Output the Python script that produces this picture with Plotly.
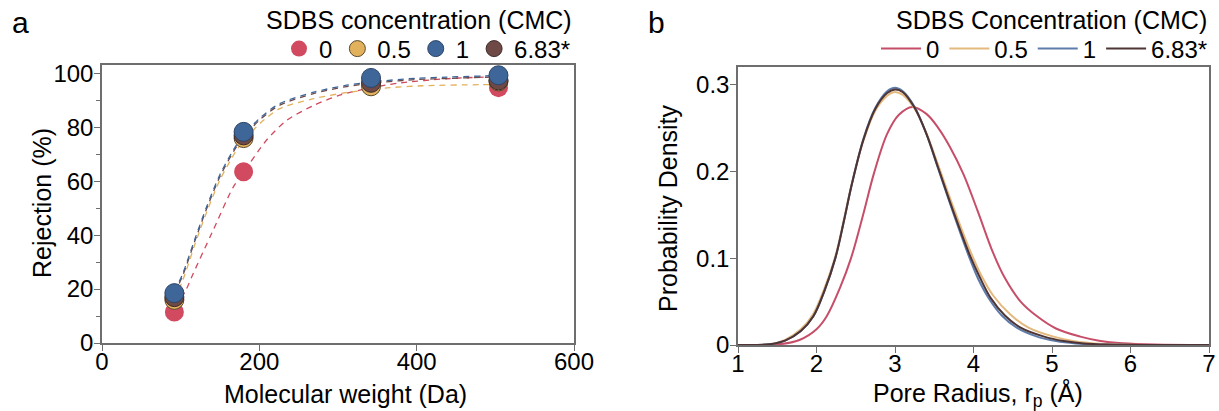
import plotly.graph_objects as go

# ---------------- data: panel a ----------------
conc_labels = ["0", "0.5", "1", "6.83*"]
mol_weight = [92, 180, 342, 504]
rej_0 = [11.5, 63.5, 96.0, 94.7]
rej_05 = [16.0, 76.0, 95.2, 97.0]
rej_1 = [18.5, 78.3, 98.3, 99.3]
rej_683 = [17.0, 77.0, 96.5, 97.4]

# fitted (dashed) curves
fit_x_0 = [92, 105.5, 116, 140, 167, 180, 209, 235, 269, 302, 336, 378, 438, 504]
fit_y_0 = [13.5, 19.0, 25.8, 41.0, 57.9, 63.3, 75.2, 82.6, 88.1, 91.9, 94.3, 96.4, 98.0, 98.8]
fit_x_05 = [92, 103, 118, 133, 150, 171, 180, 201, 226, 269, 311, 342, 366, 408, 480, 504]
fit_y_05 = [16.0, 23.5, 36.5, 48.5, 60.5, 71.5, 75.0, 81.5, 86.9, 90.6, 92.9, 94.0, 94.7, 95.4, 95.8, 95.9]
fit_x_1 = [92, 103, 118, 133, 150, 171, 180, 201, 226, 269, 311, 342, 400, 438, 504]
fit_y_1 = [19.0, 26.0, 38.5, 50.5, 62.5, 73.5, 77.0, 83.5, 88.8, 93.0, 95.6, 96.8, 98.2, 98.6, 99.2]
fit_x_683 = [92, 103, 118, 133, 150, 171, 180, 201, 226, 269, 311, 342, 400, 438, 504]
fit_y_683 = [18.3, 25.3, 37.8, 49.8, 61.8, 72.8, 76.3, 82.9, 88.2, 92.5, 95.1, 96.3, 97.7, 98.1, 98.7]

# ---------------- data: panel b ----------------
r_0 = [1.0, 1.5, 1.79, 2.0, 2.13, 2.3, 2.44, 2.6, 2.73, 2.9, 3.05, 3.22, 3.4, 3.55, 3.7, 3.87,
       4.05, 4.25, 4.4, 4.6, 4.81, 5.05, 5.36, 5.6, 5.9, 6.3, 7.0]
pdf_0 = [0.0, 0.0005, 0.006, 0.018, 0.033, 0.066, 0.1, 0.152, 0.197, 0.243, 0.265, 0.274, 0.266,
         0.25, 0.228, 0.197, 0.155, 0.106, 0.077, 0.05, 0.033, 0.019, 0.0096, 0.005, 0.002,
         0.0005, 0.0]

r_05 = [1.0, 1.4, 1.6, 1.8, 1.96, 2.1, 2.24, 2.35, 2.45, 2.6, 2.75, 2.9, 2.98, 3.1, 3.25, 3.4,
        3.55, 3.75, 3.95, 4.1, 4.25, 4.47, 4.7, 5.02, 5.3, 5.6, 6.0, 7.0]
pdf_05 = [0.0, 0.001, 0.006, 0.018, 0.036, 0.065, 0.102, 0.145, 0.186, 0.236, 0.27, 0.287,
          0.291, 0.288, 0.272, 0.244, 0.207, 0.157, 0.11, 0.08, 0.057, 0.035, 0.02, 0.0096,
          0.004, 0.0015, 0.0003, 0.0]

r_1 = [1.0, 1.4, 1.6, 1.8, 1.96, 2.1, 2.24, 2.35, 2.45, 2.6, 2.75, 2.9, 3.0, 3.1, 3.25, 3.4,
       3.55, 3.75, 3.95, 4.06, 4.2, 4.36, 4.55, 4.81, 5.05, 5.3, 5.6, 6.0, 7.0]
pdf_1 = [0.0, 0.0008, 0.005, 0.016, 0.033, 0.062, 0.1, 0.143, 0.185, 0.238, 0.273, 0.292, 0.296,
         0.292, 0.274, 0.243, 0.203, 0.15, 0.1, 0.076, 0.053, 0.034, 0.02, 0.0096, 0.0045,
         0.0018, 0.0005, 0.0001, 0.0]

r_683 = [1.0, 1.4, 1.6, 1.8, 1.96, 2.1, 2.24, 2.35, 2.45, 2.6, 2.75, 2.9, 3.0, 3.1, 3.25, 3.4,
         3.55, 3.75, 3.95, 4.08, 4.22, 4.4, 4.6, 4.9, 5.15, 5.4, 5.7, 6.1, 7.0]
pdf_683 = [0.0, 0.0008, 0.005, 0.016, 0.033, 0.062, 0.1, 0.143, 0.185, 0.237, 0.272, 0.29, 0.294,
           0.291, 0.273, 0.243, 0.204, 0.152, 0.104, 0.078, 0.054, 0.034, 0.02, 0.0096,
           0.0045, 0.0018, 0.0005, 0.0001, 0.0]

# ---------------- styles ----------------
FONT = "Liberation Sans, Arial, Helvetica, sans-serif"
W, H = 1219, 411
mk_colors = ["#D14A5F", "#E2B15C", "#3E6699", "#6E4945"]
mk_lines = ["#C0475A", "#5a4a2c", "#2E4566", "#3f2c2a"]
ln_colors = ["#C64E68", "#E3B97E", "#5E7CAA", "#4E3434"]
AX = "#6e6e6e"

fig = go.Figure()

rej_all = [rej_0, rej_05, rej_1, rej_683]
fits = [(fit_x_0, fit_y_0), (fit_x_05, fit_y_05), (fit_x_683, fit_y_683), (fit_x_1, fit_y_1)]
fit_cols = [mk_colors[0], mk_colors[1], mk_colors[3], mk_colors[2]]

# dashed fit curves
for (fx, fy), c in zip(fits, fit_cols):
    fig.add_trace(go.Scatter(x=fx, y=fy, mode="lines", line=dict(color=c, width=1.3, dash="6px,5px",
                             shape="spline", smoothing=0.8), showlegend=False, hoverinfo="skip",
                             xaxis="x", yaxis="y"))

# markers: draw order red, yellow, brown, blue (blue on top); legend order via rank
draw_order = [0, 1, 3, 2]
for i in draw_order:
    fig.add_trace(go.Scatter(x=mol_weight, y=rej_all[i], mode="markers", name=conc_labels[i],
                             marker=dict(size=19, color=mk_colors[i],
                                         line=dict(color=mk_lines[i], width=1 if i else 0)),
                             legendrank=i + 1, legend="legend", xaxis="x", yaxis="y"))

# panel b lines
rb = [(r_0, pdf_0), (r_05, pdf_05), (r_1, pdf_1), (r_683, pdf_683)]
for i, (xx, yy) in enumerate(rb):
    fig.add_trace(go.Scatter(x=xx, y=yy, mode="lines", name=conc_labels[i],
                             line=dict(color=ln_colors[i], width=2, shape="spline", smoothing=1.0),
                             legend="legend2", legendrank=i + 1, xaxis="x2", yaxis="y2"))

tickfont = dict(family=FONT, size=24, color="black")
titlefont = dict(family=FONT, size=25, color="black")

common = dict(showline=True, linecolor=AX, linewidth=1.5, mirror=True, ticks="outside",
              ticklen=6, tickwidth=1.2, tickcolor=AX, showgrid=False, zeroline=False,
              tickfont=tickfont, automargin=False)


def px_x(p):
    return p / W


def px_y(p):
    return 1 - p / H


fig.update_layout(
    width=W, height=H, autosize=False,
    margin=dict(l=0, r=0, t=0, b=0, autoexpand=False),
    paper_bgcolor="white", plot_bgcolor="white",
    font=dict(family=FONT, color="black"),
    xaxis=dict(domain=[px_x(102), px_x(574)], range=[0, 600], tickvals=[0, 200, 400, 600],
               ticklabelstandoff=-10, anchor="y", **common),
    yaxis=dict(domain=[px_y(343), px_y(65)], range=[0, 103.1],
               tickvals=[0, 20, 40, 60, 80, 100], ticklabelstandoff=-4,
               minor=dict(tickvals=[10, 30, 50, 70, 90], ticks="outside", ticklen=4, tickcolor=AX),
               anchor="x", **common),
    xaxis2=dict(domain=[px_x(738), px_x(1209)], range=[1, 7], tickvals=[1, 2, 3, 4, 5, 6, 7],
                ticklabelstandoff=-10, anchor="y2", **common),
    yaxis2=dict(domain=[px_y(345), px_y(67)], range=[0, 0.32],
                tickvals=[0, 0.1, 0.2, 0.3], ticktext=["0", "0.1", "0.2", "0.3"],
                ticklabelstandoff=-4, anchor="x2", **common),
    legend=dict(orientation="h", x=px_x(576), xanchor="right", y=px_y(49), yanchor="middle",
                font=dict(family=FONT, size=24, color="black"), bgcolor="rgba(0,0,0,0)",
                itemwidth=30, traceorder="normal", tracegroupgap=0),
    legend2=dict(orientation="h", x=px_x(1213), xanchor="right", y=px_y(49), yanchor="middle",
                 font=dict(family=FONT, size=24, color="black"), bgcolor="rgba(0,0,0,0)",
                 itemwidth=40, traceorder="normal", tracegroupgap=0),
    annotations=[
        dict(text="SDBS concentration (CMC)", x=px_x(574), y=px_y(20), xanchor="right",
             yanchor="middle", font=dict(family=FONT, size=25)),
        dict(text="SDBS Concentration (CMC)", x=px_x(1209), y=px_y(20), xanchor="right",
             yanchor="middle", font=dict(family=FONT, size=25)),
        dict(text="a", x=px_x(10), y=px_y(22), xanchor="left", yanchor="middle",
             font=dict(family=FONT, size=30)),
        dict(text="b", x=px_x(646), y=px_y(22), xanchor="left", yanchor="middle",
             font=dict(family=FONT, size=30)),
        # axis titles
        dict(text="Molecular weight (Da)", x=px_x(345), y=px_y(394), xanchor="center",
             yanchor="middle", font=titlefont),
        dict(text="Pore Radius, r<sub>p</sub> (Å)", x=px_x(978), y=px_y(394), xanchor="center",
             yanchor="middle", font=titlefont),
        dict(text="Rejection (%)", x=px_x(42), y=px_y(203), xanchor="center", yanchor="middle",
             textangle=-90, font=titlefont),
        dict(text="Probability Density", x=px_x(668), y=px_y(208), xanchor="center",
             yanchor="middle", textangle=-90, font=titlefont),
    ],
)
for a in fig.layout.annotations:
    a.xref = "paper"
    a.yref = "paper"
    a.showarrow = False

fig.write_html("out.html", config={"displayModeBar": False},
               post_script="document.body.style.margin='0px';")
